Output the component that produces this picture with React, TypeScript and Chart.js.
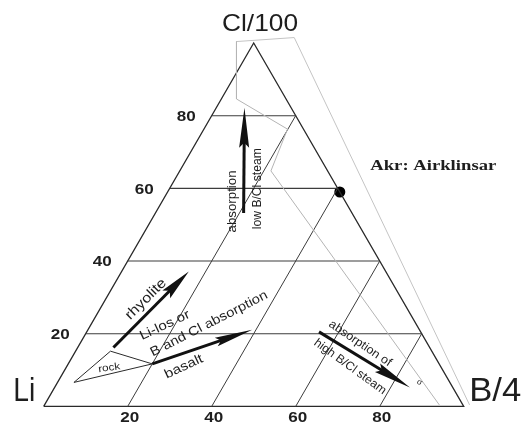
import { useEffect, useRef } from "react";
import { Chart, registerables } from "chart.js";

Chart.register(...registerables);

// ---- data (ternary coordinates given as [Cl/100 %, B/4 %]; Li = 100 - Cl - B) ----
const TICKS = [20, 40, 60, 80];
const TICK_LABELS = ["20", "40", "60", "80"];
const VERTEX_LABELS = ["Li", "B/4", "Cl/100"];
const VERTICES: number[][] = [[0, 0], [0, 100], [100, 0]];
const GRAY_INNER: number[][] = [[100.4, -4.3], [84.6, 3.6], [76.3, 19.9], [64.8, 21.7], [0.4, 94.0]];
const GRAY_OUTER: number[][] = [[100.4, -4.3], [101.5, 8.9], [0.4, 101.2]];
const ROCK_FIELD: number[][] = [[6.6, 3.9], [15.2, 8.3], [11.7, 20.0], [6.6, 3.9]];
const AKR_POINT: number[][] = [[59, 41]];
const ARROW_NAMES = ["low B/Cl steam", "rhyolite", "basalt", "high B/Cl steam"];
const ARROW_FROM: number[][] = [[53.2, 21.0], [16.2, 8.5], [11.7, 20.0], [20.5, 55.3]];
const ARROW_TO: number[][] = [[82.2, 6.7], [37.1, 16.0], [21.1, 39.1], [5.2, 84.6]];
const NOTE_TEXTS = [
  "absorption", "low B/Cl steam", "rhyolite", "Li-los or", "B and Cl absorption",
  "basalt", "rock", "absorption of", "high B/Cl steam", "Akr: Airklinsar", "σ",
];
const NOTE_AT: number[][] = [
  [56.4, 16.8], [59.9, 20.9], [29.5, 9.6], [22.3, 17.7], [22.7, 28.0],
  [10.9, 27.9], [10.6, 10.3], [17.3, 66.7], [10.9, 67.5], [66.1, 59.7], [6.6, 86.2],
];
const VERTEX_LABEL_AT: number[][] = [[4.2, -6.7], [4.2, 105.4], [105.0, -1.0]];

// ---- styles ----
const NOTE_ANGLE = [-90, -90, -45, -25, -27, -25, -8, 34, 36, 0, 30];
const NOTE_WIDTH = [62, 81, 52, 54, 130, 41, 22, 73, 86, 126, 5];
const NOTE_FONT = [
  "12px 'Liberation Sans'", "12px 'Liberation Sans'", "14px 'Liberation Sans'",
  "13px 'Liberation Sans'", "13px 'Liberation Sans'", "13px 'Liberation Sans'",
  "10px 'Liberation Sans'", "12px 'Liberation Sans'", "12px 'Liberation Sans'",
  "bold 14px 'Liberation Serif'", "8px 'Liberation Sans'",
];
const VERTEX_FONT = ["34px 'Liberation Sans'", "34px 'Liberation Sans'", "24px 'Liberation Sans'"];
const VERTEX_WIDTH = [22, 52, 76];
const HEAD_LEN = [40, 32, 38, 38];
const HEAD_W = [10, 11, 9, 10];

const toXY = (p: number[]) => ({ x: p[1] + p[0] / 2, y: p[0] });

const seg = (pts: number[][], color: string, width: number) => ({
  data: pts.map(toXY),
  showLine: true,
  borderColor: color,
  backgroundColor: color,
  borderWidth: width,
  pointRadius: 0,
  pointHoverRadius: 0,
  fill: false,
  tension: 0,
});

function drawFitText(
  ctx: CanvasRenderingContext2D, text: string, x: number, y: number,
  angle: number, font: string, width: number, align: CanvasTextAlign = "center"
) {
  ctx.save();
  ctx.font = font;
  ctx.translate(x, y);
  ctx.rotate((angle * Math.PI) / 180);
  const m = ctx.measureText(text).width;
  const s = width > 0 && m > 0 ? width / m : 1;
  ctx.scale(s, 1);
  ctx.textAlign = align;
  ctx.textBaseline = "middle";
  ctx.fillStyle = "#1e1e1e";
  ctx.fillText(text, 0, 0);
  ctx.restore();
}

const overlay = {
  id: "ternaryOverlay",
  afterDatasetsDraw(chart: any) {
    const { ctx } = chart;
    const sx = chart.scales.x;
    const sy = chart.scales.y;
    const px = (p: number[]) => [sx.getPixelForValue(p[1] + p[0] / 2), sy.getPixelForValue(p[0])];

    // arrows
    ARROW_NAMES.forEach((_, i) => {
      const [x0, y0] = px(ARROW_FROM[i]);
      const [x1, y1] = px(ARROW_TO[i]);
      const dx = x1 - x0, dy = y1 - y0;
      const len = Math.hypot(dx, dy);
      const ux = dx / len, uy = dy / len;
      const nx = -uy, ny = ux;
      const L = HEAD_LEN[i], W = HEAD_W[i] / 2;
      const bx = x1 - ux * L, by = y1 - uy * L;
      ctx.save();
      ctx.strokeStyle = "#111";
      ctx.fillStyle = "#111";
      ctx.lineWidth = 3;
      ctx.lineCap = "butt";
      ctx.beginPath();
      ctx.moveTo(x0, y0);
      ctx.lineTo(bx + ux * 6, by + uy * 6);
      ctx.stroke();
      ctx.beginPath();
      ctx.moveTo(x1, y1);
      ctx.lineTo(bx + nx * W, by + ny * W);
      ctx.lineTo(bx + ux * 5, by + uy * 5);
      ctx.lineTo(bx - nx * W, by - ny * W);
      ctx.closePath();
      ctx.fill();
      ctx.restore();
    });

    // tick labels on the left edge (Cl) and bottom edge (B/4)
    TICKS.forEach((t, i) => {
      const [lx, ly] = px([t, 0]);
      drawFitText(ctx, TICK_LABELS[i], lx - 16, ly + 1, 0, "bold 15px 'Liberation Sans'", 19, "right");
      const [bx, by] = px([0, t]);
      drawFitText(ctx, TICK_LABELS[i], bx + 2, by + 11, 0, "bold 15px 'Liberation Sans'", 19, "center");
    });

    // vertex labels
    VERTEX_LABELS.forEach((t, i) => {
      const [x, y] = px(VERTEX_LABEL_AT[i]);
      drawFitText(ctx, t, x, y, 0, VERTEX_FONT[i], VERTEX_WIDTH[i]);
    });

    // notes
    NOTE_TEXTS.forEach((t, i) => {
      const [x, y] = px(NOTE_AT[i]);
      drawFitText(ctx, t, x, y, NOTE_ANGLE[i], NOTE_FONT[i], NOTE_WIDTH[i]);
    });
  },
};

export default function App() {
  const ref = useRef<HTMLCanvasElement>(null);

  useEffect(() => {
    if (!ref.current) return;
    const datasets: any[] = [];
    // gray field outlines
    datasets.push(seg(GRAY_INNER, "#b4b4b4", 1));
    datasets.push(seg(GRAY_OUTER, "#c4c4c4", 1));
    // grid lines: constant Cl (horizontal) and constant B (parallel to the Li–Cl edge)
    TICKS.forEach((t) => {
      datasets.push(seg([[t, 0], [t, 100 - t]], "#3c3c3c", 1.1));
      datasets.push(seg([[0, t], [100 - t, t]], "#3c3c3c", 1));
    });
    // triangle
    datasets.push(seg([...VERTICES, VERTICES[0]], "#2a2a2a", 1.3));
    // rock field
    datasets.push(seg(ROCK_FIELD, "#2a2a2a", 1));
    // Akr point
    datasets.push({
      data: AKR_POINT.map(toXY),
      showLine: false,
      pointRadius: 5.5,
      pointHoverRadius: 5.5,
      pointBackgroundColor: "#000",
      pointBorderColor: "#000",
      pointBorderWidth: 0,
    });

    const chart = new Chart(ref.current, {
      type: "scatter",
      data: { datasets },
      options: {
        animation: false,
        responsive: false,
        events: [],
        layout: { padding: 0 },
        plugins: { legend: { display: false }, tooltip: { enabled: false }, title: { display: false } },
        scales: {
          x: { type: "linear", display: false, min: -9.091, max: 113.52 },
          y: { type: "linear", display: false, min: -4.155, max: 110.32 },
        },
      },
      plugins: [overlay],
    });
    return () => chart.destroy();
  }, []);

  return (
    <div style={{ position: "absolute", left: 0, top: 0, width: 526, height: 427, background: "#fff" }}>
      <canvas ref={ref} width={526} height={427} style={{ display: "block" }} />
    </div>
  );
}
